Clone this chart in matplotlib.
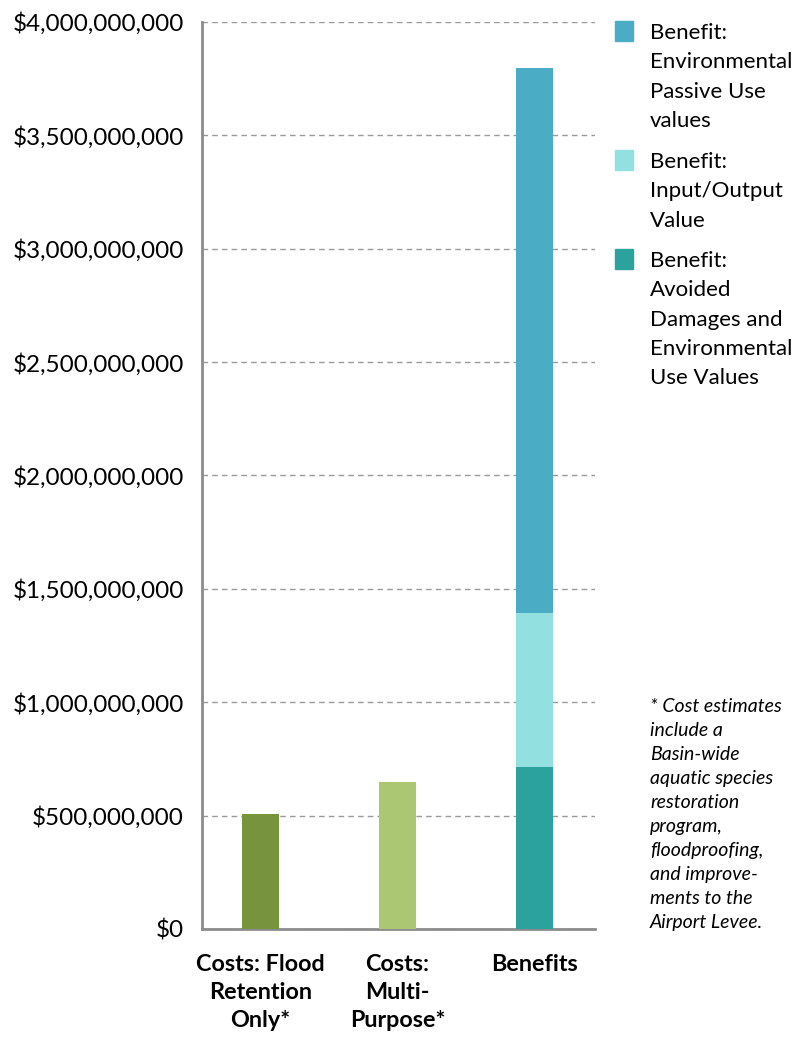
import matplotlib
matplotlib.use("Agg")
from matplotlib import pyplot as plt
from matplotlib.patches import Rectangle
from matplotlib.ticker import FuncFormatter

plt.rcParams['font.family'] = ['Lato', 'DejaVu Sans']

### data (dollars)
categories = ["Costs: Flood\nRetention\nOnly*", "Costs:\nMulti-\nPurpose*", "Benefits"]
cost_values = [507e6, 647e6]
benefit_avoided = 714e6
benefit_io = 681e6
benefit_passive = 2402e6

legend_labels = ["Benefit:\nEnvironmental\nPassive Use\nvalues",
                 "Benefit:\nInput/Output\nValue",
                 "Benefit:\nAvoided\nDamages and\nEnvironmental\nUse Values"]
footnote = ("* Cost estimates\ninclude a\nBasin-wide\naquatic species\nrestoration\n"
            "program,\nfloodproofing,\nand improve-\nments to the\nAirport Levee.")

### colours
c_cost1 = "#77933C"
c_cost2 = "#ACC774"
c_avoided = "#2BA39C"
c_io = "#93E0E0"
c_passive = "#4BACC6"

fig = plt.figure(figsize=(8, 10.4), dpi=100)
ax = fig.add_axes([202/800, 111/1040, 393/800, 907/1040])

w = 0.27
ax.bar([0], cost_values[0], width=w, color=c_cost1, zorder=3)
ax.bar([1], cost_values[1], width=w, color=c_cost2, zorder=3)
ax.bar([2], benefit_avoided, width=w, color=c_avoided, zorder=3)
ax.bar([2], benefit_io, width=w, bottom=benefit_avoided, color=c_io, zorder=3)
ax.bar([2], benefit_passive, width=w, bottom=benefit_avoided + benefit_io,
       color=c_passive, zorder=3)

ax.set_xlim(-0.427, 2.44)
ax.set_ylim(0, 4e9)
ax.set_yticks([i * 5e8 for i in range(9)])
ax.yaxis.set_major_formatter(FuncFormatter(lambda v, p: "${:,.0f}".format(v)))
ax.set_xticks([0, 1, 2])
ax.set_xticklabels(categories, fontweight="bold", fontsize=16.8, linespacing=1.42)

ax.yaxis.grid(True, linestyle=(0, (4, 3)), color="#999999", linewidth=1, zorder=0)
for s in ["top", "right"]:
    ax.spines[s].set_visible(False)
for s in ["left", "bottom"]:
    ax.spines[s].set_color("#8c8c8c")
    ax.spines[s].set_linewidth(2)
ax.tick_params(axis='y', length=0, pad=13, labelsize=17.5)
ax.tick_params(axis='x', length=0, pad=18)

### legend drawn by hand so squares sit beside the first line
leg_colors = [c_passive, c_io, c_avoided]
leg_tops = [21, 150, 249]
for lab, col, top in zip(legend_labels, leg_colors, leg_tops):
    fig.patches.append(Rectangle((615/800, 1 - (top + 20)/1040), 18/800, 20/1040,
                                 transform=fig.transFigure, color=col))
    fig.text(650/800, 1 - (top + 2)/1040, lab, fontsize=16, va="top", ha="left",
             linespacing=1.58)

fig.text(650/800, 1 - 698/1040, footnote, fontsize=14, style="italic",
         va="top", ha="left", linespacing=1.5)

plt.savefig("out.png", dpi=100)
